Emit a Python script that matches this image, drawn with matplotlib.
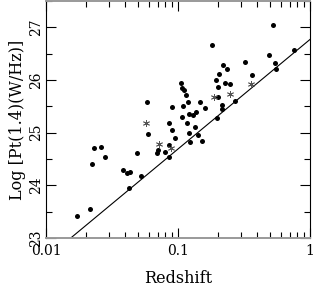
import matplotlib
matplotlib.use('Agg')
import matplotlib.pyplot as plt
import numpy as np
from matplotlib.ticker import LogLocator, MultipleLocator, FixedLocator, FixedFormatter

# Data
dot_z = [0.0171, 0.0214, 0.0222, 0.0232, 0.0261, 0.0281, 0.0383, 0.0411, 0.0433, 0.0425,
         0.0492, 0.0525, 0.0585, 0.0596, 0.0697, 0.0711, 0.0804, 0.0857, 0.0857, 0.0857,
         0.0905, 0.0949, 0.0908, 0.1045, 0.1072, 0.1119, 0.1153, 0.1197, 0.1082, 0.1076,
         0.1160, 0.1218, 0.1288, 0.1362, 0.1469, 0.1594, 0.1340, 0.1211, 0.1409, 0.1512,
         0.1228, 0.1816, 0.2182, 0.2352, 0.2061, 0.1957, 0.2281, 0.2457, 0.2018, 0.2018,
         0.2162, 0.2167, 0.1986, 0.2691, 0.3200, 0.3646, 0.4916, 0.5218, 0.5430, 0.5546,
         0.7535]
dot_logp = [23.42, 23.55, 24.40, 24.71, 24.72, 24.53, 24.30, 24.24, 24.26, 23.95,
            24.62, 24.18, 25.58, 24.98, 24.62, 24.67, 24.64, 24.77, 24.54, 25.19,
            25.05, 24.89, 25.48, 25.94, 25.85, 25.81, 25.71, 25.58, 25.50, 25.30,
            25.18, 25.35, 25.33, 25.40, 25.59, 25.46, 25.10, 25.00, 24.96, 24.85,
            24.83, 26.67, 26.29, 26.20, 26.12, 26.00, 25.94, 25.93, 25.86, 25.67,
            25.53, 25.44, 25.27, 25.60, 26.35, 26.09, 26.47, 27.05, 26.33, 26.20,
            26.57]
star_z = [0.0573, 0.0721, 0.0881, 0.1876, 0.2485, 0.3564]
star_logp = [25.19, 24.78, 24.71, 25.67, 25.74, 25.93]

# flux limit line
limit_z = [0.0154, 1.0]
limit_logp = [23.0, 26.77]

plt.rcParams['font.family'] = ['DejaVu Serif']

fig = plt.figure(figsize=(3.14, 2.88), dpi=100)
ax = fig.add_axes([46 / 314, 50 / 288, 264 / 314, 237 / 288])

ax.plot(limit_z, limit_logp, color='black', lw=0.8)
ax.plot(dot_z, dot_logp, 'o', color='black', markersize=3.6, markeredgewidth=0)
ax.plot(star_z, star_logp, linestyle='none', marker=(6, 2, 0), color='#555555',
        markersize=5, markeredgewidth=0.6)

ax.set_xscale('log')
ax.set_xlim(0.01, 1)
ax.set_ylim(23, 27.5)

ax.xaxis.set_major_locator(FixedLocator([0.01, 0.1, 1]))
ax.xaxis.set_major_formatter(FixedFormatter(['0.01', '0.1', '1']))
ax.xaxis.set_minor_locator(LogLocator(base=10, subs=np.arange(2, 10)))
ax.xaxis.set_minor_formatter(plt.NullFormatter())
ax.yaxis.set_major_locator(MultipleLocator(1))
ax.yaxis.set_minor_locator(MultipleLocator(0.5))

ax.tick_params(which='both', direction='in', top=True, right=True, labelsize=10)
ax.tick_params(axis='x', pad=4)
ax.tick_params(axis='y', pad=2)
ax.tick_params(which='major', length=7, width=0.8)
ax.tick_params(which='minor', length=4, width=0.8)
for lab in ax.get_yticklabels():
    lab.set_rotation(90)
    lab.set_va('center')

for side in ['top', 'bottom']:
    ax.spines[side].set_color('#999999')
    ax.spines[side].set_linewidth(1.4)
for side in ['left', 'right']:
    ax.spines[side].set_color('black')
    ax.spines[side].set_linewidth(0.8)

ax.set_xlabel('Redshift', fontsize=11.5, labelpad=9)
ax.set_ylabel('Log [Pt(1.4)(W/Hz)]', fontsize=11.5, labelpad=2)

plt.savefig('out.png', dpi=100)
plt.close()
